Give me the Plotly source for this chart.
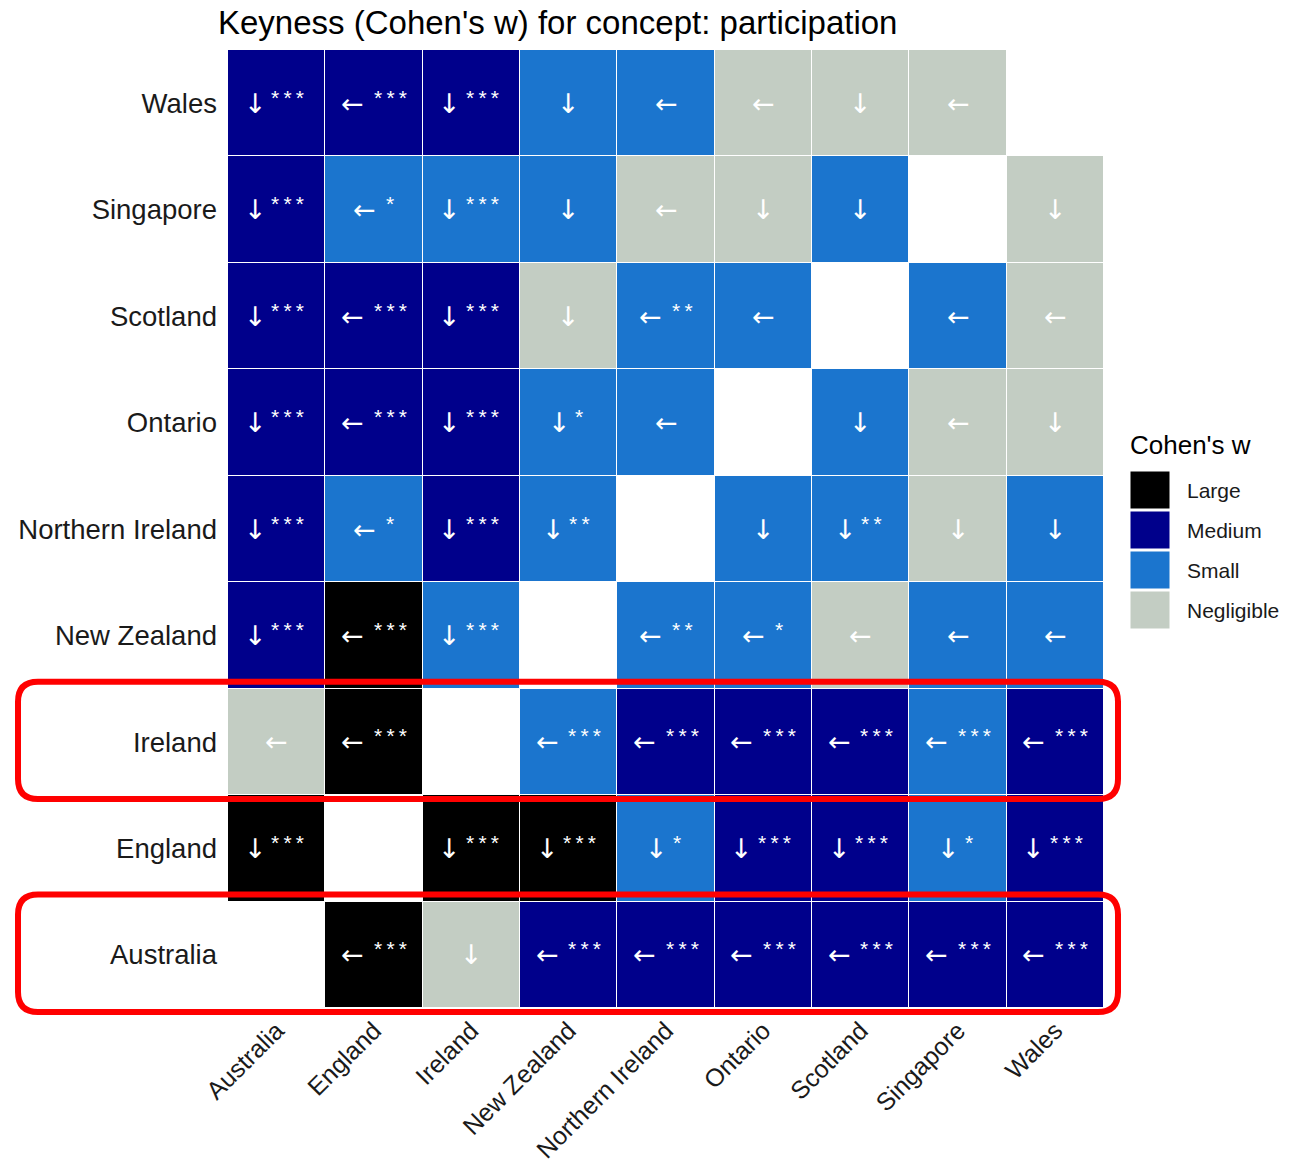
import plotly.graph_objects as go

countries = ["Australia", "England", "Ireland", "New Zealand", "Northern Ireland",
             "Ontario", "Scotland", "Singapore", "Wales"]

# rows = y country (bottom to top), columns = x country
effect = [
    [None, "Large", "Negligible", "Medium", "Medium", "Medium", "Medium", "Medium", "Medium"],   # Australia
    ["Large", None, "Large", "Large", "Small", "Medium", "Medium", "Small", "Medium"],           # England
    ["Negligible", "Large", None, "Small", "Medium", "Medium", "Medium", "Small", "Medium"],     # Ireland
    ["Medium", "Large", "Small", None, "Small", "Small", "Negligible", "Small", "Small"],        # New Zealand
    ["Medium", "Small", "Medium", "Small", None, "Small", "Small", "Negligible", "Small"],       # Northern Ireland
    ["Medium", "Medium", "Medium", "Small", "Small", None, "Small", "Negligible", "Negligible"], # Ontario
    ["Medium", "Medium", "Medium", "Negligible", "Small", "Small", None, "Small", "Negligible"], # Scotland
    ["Medium", "Small", "Small", "Small", "Negligible", "Negligible", "Small", None, "Negligible"],  # Singapore
    ["Medium", "Medium", "Medium", "Small", "Small", "Negligible", "Negligible", "Negligible", None],  # Wales
]

direction = [
    ["", "←", "↓", "←", "←", "←", "←", "←", "←"],
    ["↓", "", "↓", "↓", "↓", "↓", "↓", "↓", "↓"],
    ["←", "←", "", "←", "←", "←", "←", "←", "←"],
    ["↓", "←", "↓", "", "←", "←", "←", "←", "←"],
    ["↓", "←", "↓", "↓", "", "↓", "↓", "↓", "↓"],
    ["↓", "←", "↓", "↓", "←", "", "↓", "←", "↓"],
    ["↓", "←", "↓", "↓", "←", "←", "", "←", "←"],
    ["↓", "←", "↓", "↓", "←", "↓", "↓", "", "↓"],
    ["↓", "←", "↓", "↓", "←", "←", "↓", "←", ""],
]

significance = [
    ["", "***", "", "***", "***", "***", "***", "***", "***"],
    ["***", "", "***", "***", "*", "***", "***", "*", "***"],
    ["", "***", "", "***", "***", "***", "***", "***", "***"],
    ["***", "***", "***", "", "**", "*", "", "", ""],
    ["***", "*", "***", "**", "", "", "**", "", ""],
    ["***", "***", "***", "*", "", "", "", "", ""],
    ["***", "***", "***", "", "**", "", "", "", ""],
    ["***", "*", "***", "", "", "", "", "", ""],
    ["***", "***", "***", "", "", "", "", "", ""],
]

levels = ["Negligible", "Small", "Medium", "Large"]
level_colors = {"Large": "#000000", "Medium": "#00008B", "Small": "#1B75CE", "Negligible": "#C3CDC3"}
legend_order = ["Large", "Medium", "Small", "Negligible"]

highlight_rows = ["Ireland", "Australia"]

title = "Keyness (Cohen's w) for concept: participation"

FONT = "Liberation Sans, Arial, Helvetica, sans-serif"
ARROW_FONT = "DejaVu Sans"
W, H = 1304, 1168
L, R, T, B = 228, 200, 50, 160
PW, PH = W - L - R, H - T - B

def px2x(px):
    return (px - L) / PW

def px2y(py):
    return (H - B - py) / PH

code = {lv: i for i, lv in enumerate(levels)}
z = [[(code[v] if v is not None else None) for v in row] for row in effect]

n = len(levels)
colorscale = []
for i, lv in enumerate(levels):
    colorscale.append([i / n, level_colors[lv]])
    colorscale.append([(i + 1) / n, level_colors[lv]])

fig = go.Figure()
fig.add_trace(go.Heatmap(
    x=countries, y=countries, z=z,
    colorscale=colorscale, zmin=-0.5, zmax=n - 0.5,
    showscale=False, xgap=1, ygap=1, hoverinfo="skip",
))

# approximate pixel advances used to centre "arrow + stars" inside a cell
ARROW_ADV = {"↓": 14, "←": 24}
GAP = 10
STAR_W, STAR_GAP = 9, 3

annotations = []
for i, yc in enumerate(countries):
    for j, xc in enumerate(countries):
        if effect[i][j] is None:
            continue
        arrow = direction[i][j]
        stars = significance[i][j]
        a_font = dict(family=ARROW_FONT, size=27, color="white")
        if not stars:
            annotations.append(dict(x=xc, y=yc, xref="x", yref="y", text=arrow,
                                    showarrow=False, font=a_font))
            continue
        k = len(stars)
        a = ARROW_ADV[arrow]
        s_w = STAR_W * k + STAR_GAP * (k - 1)
        total = a + GAP + s_w
        left = -total / 2
        annotations.append(dict(x=xc, y=yc, xref="x", yref="y", text=arrow,
                                showarrow=False, xshift=left + a / 2, font=a_font))
        annotations.append(dict(x=xc, y=yc, xref="x", yref="y", text="\u2009".join(stars),
                                showarrow=False, xanchor="left", xshift=left + a + GAP - 2,
                                yshift=6, borderpad=0,
                                font=dict(family=FONT, size=21, color="white")))

# legend (drawn manually to match square keys)
shapes = []
annotations.append(dict(
    x=px2x(1128), y=px2y(445), xref="paper", yref="paper", xanchor="left", yanchor="middle",
    text="Cohen's w", showarrow=False, font=dict(family=FONT, size=26, color="black"),
))
for k, lv in enumerate(legend_order):
    top = 471 + 40 * k
    shapes.append(dict(
        type="rect", xref="paper", yref="paper",
        x0=px2x(1130), x1=px2x(1170), y0=px2y(top + 38), y1=px2y(top),
        fillcolor=level_colors[lv], line=dict(width=1, color="white"), layer="above",
    ))
    annotations.append(dict(
        x=px2x(1185), y=px2y(top + 19), xref="paper", yref="paper", xanchor="left", yanchor="middle",
        text=lv, showarrow=False, font=dict(family=FONT, size=21, color="#1a1a1a"),
    ))

# red rounded highlight boxes around selected rows
rx, ry = 20 / PW, 20 / PH
x0, x1 = px2x(18), px2x(1118)
for name in highlight_rows:
    idx = countries.index(name)
    y0 = idx / len(countries) - 4 / PH
    y1 = (idx + 1) / len(countries) + 7 / PH
    path = (f"M {x0+rx},{y0} L {x1-rx},{y0} Q {x1},{y0} {x1},{y0+ry} "
            f"L {x1},{y1-ry} Q {x1},{y1} {x1-rx},{y1} L {x0+rx},{y1} "
            f"Q {x0},{y1} {x0},{y1-ry} L {x0},{y0+ry} Q {x0},{y0} {x0+rx},{y0} Z")
    shapes.append(dict(type="path", xref="paper", yref="paper", path=path,
                       line=dict(color="#FF0000", width=6), layer="above"))

fig.update_layout(
    width=W, height=H,
    margin=dict(l=L, r=R, t=T, b=B, autoexpand=False),
    paper_bgcolor="white", plot_bgcolor="white",
    title=dict(text=title, x=218 / W, xanchor="left", xref="container",
               y=1 - 22 / H, yanchor="middle", yref="container",
               font=dict(family=FONT, size=33, color="black")),
    xaxis=dict(type="category", categoryorder="array", categoryarray=countries,
               range=[-0.5, len(countries) - 0.5], tickangle=-45, showgrid=False,
               zeroline=False, ticks="", ticklabelstandoff=2, automargin=False,
               tickfont=dict(family=FONT, size=25, color="#1a1a1a")),
    yaxis=dict(type="category", categoryorder="array", categoryarray=countries,
               range=[-0.5, len(countries) - 0.5], showgrid=False, zeroline=False,
               ticks="", ticklabelstandoff=10, automargin=False,
               tickfont=dict(family=FONT, size=27.5, color="#1a1a1a")),
    annotations=annotations, shapes=shapes, showlegend=False,
)

fig.write_html("out.html")
